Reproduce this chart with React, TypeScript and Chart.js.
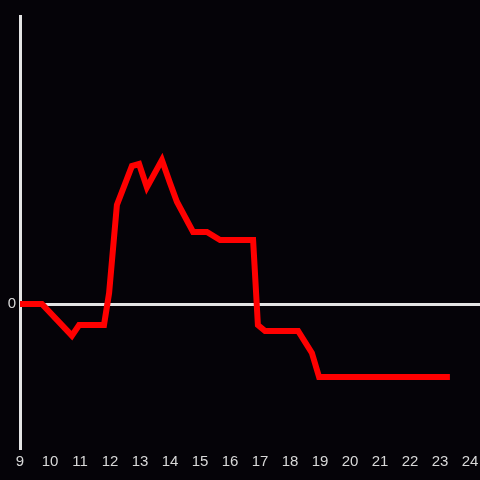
import React, { useEffect, useRef } from "react";
import { Chart, registerables } from "chart.js";

Chart.register(...registerables);

const hours: number[] = [9, 9.73, 10.73, 10.97, 11.8, 11.97, 12.23, 12.73, 12.97, 13.23, 13.73, 14.0, 14.23, 14.77, 15.23, 15.67, 16.77, 16.93, 17.17, 18.27, 18.73, 18.97, 23.33];
const values: number[] = [0, 0, -0.22, -0.146, -0.146, 0.076, 0.688, 0.958, 0.972, 0.81, 1.0, 0.84, 0.71, 0.5, 0.5, 0.444, 0.444, -0.146, -0.1875, -0.1875, -0.34, -0.507, -0.507];
const xTicks: number[] = [9, 10, 11, 12, 13, 14, 15, 16, 17, 18, 19, 20, 21, 22, 23, 24];
const yTicks: number[] = [0];

const BG = "rgb(5,3,8)";
const AXIS = "#e4e4e4";
const TEXT = "#d8d8d8";

export default function App() {
  const ref = useRef<HTMLCanvasElement | null>(null);
  useEffect(() => {
    document.body.style.margin = "0";
    document.body.style.background = BG;
    const canvas = ref.current!;
    const chart = new Chart(canvas, {
      type: "line",
      data: {
        datasets: [
          {
            data: hours.map((h, i) => ({ x: h, y: values[i] })),
            borderColor: "#ff0000",
            borderWidth: 6,
            pointRadius: 0,
            fill: false,
            tension: 0,
          },
        ],
      },
      options: {
        animation: false,
        responsive: false,
        maintainAspectRatio: false,
        layout: { padding: { top: 16, left: 0, right: 0, bottom: 0 } },
        plugins: { legend: { display: false }, tooltip: { enabled: false } },
        scales: {
          x: {
            type: "linear",
            min: 9,
            max: 24 + 1 / 3,
            afterBuildTicks: (scale: any) => {
              scale.ticks = xTicks.map((v) => ({ value: v }));
            },
            afterFit: (scale: any) => {
              scale.height = 32;
              scale.paddingLeft = 0;
              scale.paddingRight = 0;
            },
            grid: { display: false, drawTicks: false },
            border: { display: false },
            ticks: {
              color: TEXT,
              font: { family: "'Liberation Sans', Arial, sans-serif", size: 15 },
              padding: 5,
              maxRotation: 0,
              autoSkip: false,
            },
          },
          y: {
            type: "linear",
            min: -1,
            max: 2,
            afterBuildTicks: (scale: any) => {
              scale.ticks = yTicks.map((v) => ({ value: v }));
            },
            afterFit: (scale: any) => {
              scale.width = 20;
              scale.paddingTop = 0;
              scale.paddingBottom = 0;
            },
            grid: {
              drawTicks: false,
              lineWidth: 3,
              color: (ctx: any) => (ctx.tick && ctx.tick.value === 0 ? AXIS : "transparent"),
            },
            border: { display: true, color: AXIS, width: 3 },
            ticks: {
              color: TEXT,
              font: { family: "'Liberation Sans', Arial, sans-serif", size: 15 },
              padding: 4,
            },
          },
        },
      },
      plugins: [
        {
          id: "bg",
          beforeDraw: (c: any) => {
            const ctx = c.ctx;
            ctx.save();
            ctx.fillStyle = BG;
            ctx.fillRect(0, 0, c.width, c.height);
            ctx.restore();
          },
        },
      ],
    } as any);
    return () => chart.destroy();
  }, []);
  return (
    <div style={{ position: "fixed", left: 0, top: 0, width: 480, height: 480, background: BG }}>
      <canvas ref={ref} width={480} height={480} style={{ display: "block" }} />
    </div>
  );
}
